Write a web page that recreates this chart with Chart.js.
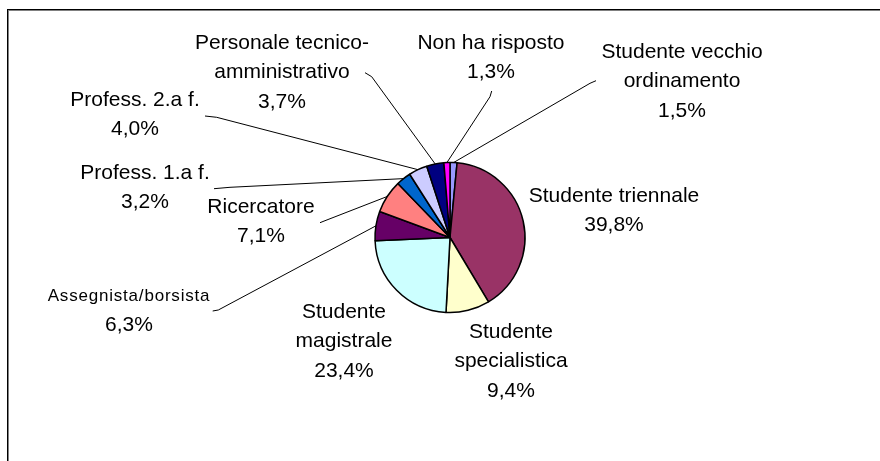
<!DOCTYPE html>
<html><head><meta charset="utf-8">
<script src="https://cdn.jsdelivr.net/npm/chart.js@4"></script>
<style>html,body{margin:0;padding:0;background:#fff}canvas{display:block}</style>
</head><body>
<canvas id="c" width="880" height="461"></canvas>
<script>
const categories = ['Studente vecchio\nordinamento','Studente triennale','Studente\nspecialistica','Studente\nmagistrale','Assegnista/borsista','Ricercatore','Profess. 1.a f.','Profess. 2.a f.','Personale tecnico-\namministrativo','Non ha risposto'];
const percentages = [1.5, 39.8, 9.4, 23.4, 6.3, 7.1, 3.2, 4.0, 3.7, 1.3];
const sliceColors = ['#9999FF','#993366','#FFFFCC','#CCFFFF','#660066','#FF8080','#0066CC','#CCCCFF','#000080','#FF00FF'];

// label layout: text centre x, first line centre y, name font size, leader points on label side (outer end first)
const labelLayout = [
  {x:682, y:52,  size:21, leader:[[596,80.7],[590,83.3]]},
  {x:614, y:196, size:21, leader:null},
  {x:511, y:332, size:21, leader:null},
  {x:344, y:312, size:21, leader:null},
  {x:129, y:296, size:17, leader:[[212.7,311],[218.3,310]]},
  {x:261, y:207, size:21, leader:[[320,222.7],[325,220.7]]},
  {x:145, y:173, size:21, leader:[[214,188.7],[230,187.3]]},
  {x:135, y:100, size:21, leader:[[205,116],[216.7,117.3]]},
  {x:282, y:43,  size:21, leader:[[365,72.7],[371.7,76.7]]},
  {x:491, y:43,  size:21, leader:[[491.7,91],[490,96.7]]}
];
const LINE_H = 29.5;
const VALUE_SIZE = 21;

const framePlugin = {
  id:'frame',
  beforeDraw(chart){
    const ctx = chart.ctx;
    ctx.save();
    ctx.fillStyle = '#fff';
    ctx.fillRect(0,0,chart.width,chart.height);
    ctx.fillStyle = '#000';
    ctx.fillRect(7,9,chart.width,1);
    ctx.fillRect(7,9,1,chart.height);
    ctx.fillStyle = '#808080';
    ctx.fillRect(8,10,chart.width,1);
    ctx.fillRect(8,10,1,chart.height);
    ctx.restore();
  }
};

function setSpacing(ctx, v){ try { ctx.letterSpacing = v; } catch(e){} }

const labelPlugin = {
  id:'pieLabels',
  afterDraw(chart){
    const ctx = chart.ctx;
    const meta = chart.getDatasetMeta(0);
    ctx.save();
    meta.data.forEach((arc, i) => {
      const p = arc.getProps(['x','y','startAngle','endAngle','outerRadius'], true);
      const lay = labelLayout[i];
      const mid = (p.startAngle + p.endAngle) / 2;
      const ex = p.x + Math.cos(mid) * p.outerRadius;
      const ey = p.y + Math.sin(mid) * p.outerRadius;
      if (lay.leader) {
        ctx.strokeStyle = '#000';
        ctx.lineWidth = 1;
        ctx.beginPath();
        ctx.moveTo(lay.leader[0][0], lay.leader[0][1]);
        for (let k = 1; k < lay.leader.length; k++) ctx.lineTo(lay.leader[k][0], lay.leader[k][1]);
        ctx.lineTo(ex, ey);
        ctx.stroke();
      }
      const lines = categories[i].split('\n');
      const valueText = percentages[i].toFixed(1).replace('.', ',') + '%';
      ctx.fillStyle = '#000';
      ctx.textAlign = 'center';
      ctx.textBaseline = 'middle';
      ctx.font = lay.size + 'px "Liberation Sans", Arial, sans-serif';
      setSpacing(ctx, lay.size < VALUE_SIZE ? '0.8px' : '0px');
      lines.forEach((t, k) => ctx.fillText(t, lay.x, lay.y + k * LINE_H));
      ctx.font = VALUE_SIZE + 'px "Liberation Sans", Arial, sans-serif';
      setSpacing(ctx, '0px');
      ctx.fillText(valueText, lay.x, lay.y + lines.length * LINE_H);
    });
    ctx.restore();
  }
};

new Chart(document.getElementById('c'), {
  type:'pie',
  data:{
    labels: categories,
    datasets:[{
      data: percentages,
      backgroundColor: sliceColors,
      borderColor:'#000',
      borderWidth:1.5
    }]
  },
  options:{
    responsive:false,
    devicePixelRatio:1,
    animation:false,
    radius:75,
    layout:{padding:{left:100,right:80,top:50,bottom:36}},
    plugins:{legend:{display:false}, tooltip:{enabled:false}},
    events:[]
  },
  plugins:[framePlugin, labelPlugin]
});
</script>
</body></html>
